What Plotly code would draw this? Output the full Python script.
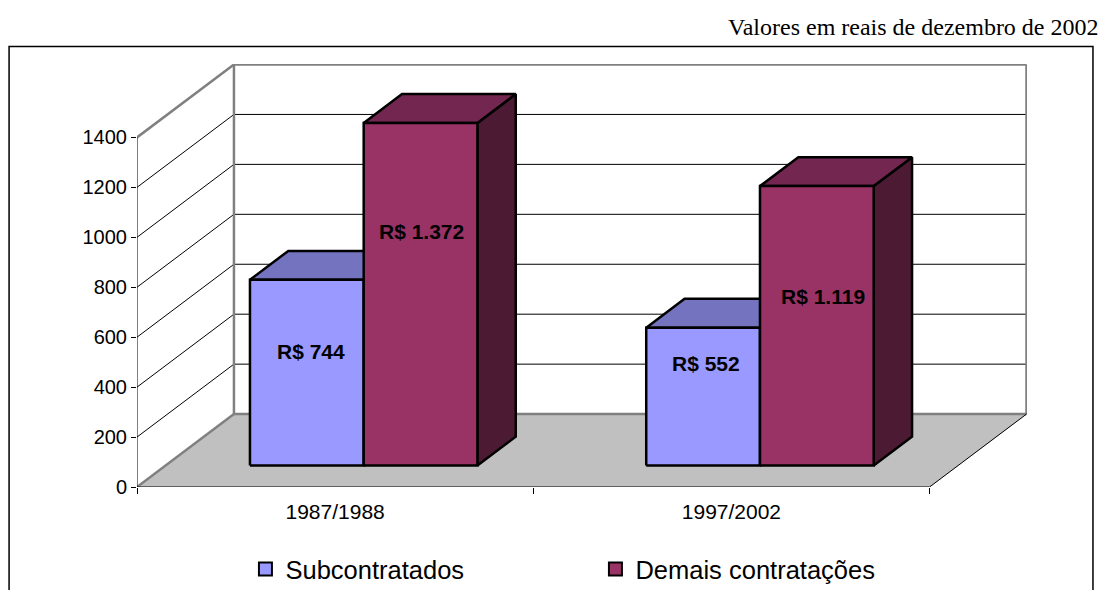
import plotly.graph_objects as go

# ---- data ----
categories = ["1987/1988", "1997/2002"]
series_names = ["Subcontratados", "Demais contratações"]
subcontratados = [744, 552]
demais = [1372, 1119]
value_labels = [["R$ 744", "R$ 552"], ["R$ 1.372", "R$ 1.119"]]
y_ticks = [0, 200, 400, 600, 800, 1000, 1200, 1400]
note = "Valores em reais de dezembro de 2002"

# ---- styles ----
FACE = ["#9999FF", "#993366"]
TOP = ["#7373BF", "#732650"]
SIDE = ["#4D4D80", "#4D1A33"]
FLOOR = "#C0C0C0"
WALL = "#808080"

# ---- pseudo-3D projection (plot units) ----
W, H = 1106, 590
L, R, T, B = 136.5, 1027, 64, 487.5
PX_PER_CAT = 396.5
PX_PER_VAL = 0.25
DEPTH_DX = 97 / PX_PER_CAT
DEPTH_DY = 73 / PX_PER_VAL
XMAX = (R - L) / PX_PER_CAT
YMAX = (B - T) / PX_PER_VAL
GAP, BAR_W = 0.213, 0.287
D0, D1 = 0.2945, 0.69


def pr(c, v, d):
    return c + d * DEPTH_DX, v + d * DEPTH_DY


def poly(points, fill, line="black", width=2.5):
    xy = [pr(*p) for p in points]
    xy.append(xy[0])
    return go.Scatter(x=[p[0] for p in xy], y=[p[1] for p in xy], mode="lines", fill="toself",
                      fillcolor=fill, line=dict(color=line, width=width),
                      showlegend=False, hoverinfo="skip")


def seg(a, b, color, width):
    pa, pb = pr(*a), pr(*b)
    return go.Scatter(x=[pa[0], pb[0]], y=[pa[1], pb[1]], mode="lines",
                      line=dict(color=color, width=width),
                      showlegend=False, hoverinfo="skip", cliponaxis=False)


fig = go.Figure()
ncat = len(categories)

# floor
fig.add_trace(poly([(0, 0, 0), (ncat, 0, 0), (ncat, 0, 1), (0, 0, 1)], FLOOR, FLOOR, 0.5))
# grid lines
for v in y_ticks[1:-1]:
    fig.add_trace(seg((0, v, 0), (0, v, 1), "#000000", 1))
    fig.add_trace(seg((0, v, 1), (ncat, v, 1), "#000000", 1))
# walls
top = y_ticks[-1]
for a, b in [((0, 0, 0), (0, 0, 1)), ((0, 0, 1), (ncat, 0, 1)), ((0, 0, 1), (0, top, 1)),
             ((0, top, 0), (0, top, 1)), ((0, top, 1), (ncat, top, 1)), ((ncat, 0, 1), (ncat, top, 1))]:
    fig.add_trace(seg(a, b, WALL, 2.5))
fig.add_trace(seg((0, 0, 0), (0, top, 0), "#000000", 1))
fig.add_trace(seg((0, 0, 0), (ncat, 0, 0), "#000000", 1))
fig.add_trace(seg((ncat, 0, 0), (ncat, 0, 1), "#000000", 1))

# bars
for ci in range(ncat):
    for si, vals in enumerate([subcontratados, demais]):
        x0 = ci + GAP + si * BAR_W
        x1 = x0 + BAR_W
        v = vals[ci]
        fig.add_trace(poly([(x1, 0, D0), (x1, 0, D1), (x1, v, D1), (x1, v, D0)], SIDE[si]))
        fig.add_trace(poly([(x0, v, D0), (x1, v, D0), (x1, v, D1), (x0, v, D1)], TOP[si]))
        fig.add_trace(poly([(x0, 0, D0), (x1, 0, D0), (x1, v, D0), (x0, v, D0)], FACE[si]))

# legend entries
for si, name in enumerate(series_names):
    fig.add_trace(go.Scatter(x=[None], y=[None], mode="markers", name=name,
                             marker=dict(symbol="square", size=13, color=FACE[si],
                                         line=dict(color="black", width=2))))

# value labels
label_x = [[0.439, 1.435], [0.719, 1.73]]
label_y = [[542, 494], [1022, 762]]
for si in range(2):
    for ci in range(ncat):
        fig.add_annotation(x=label_x[si][ci], y=label_y[si][ci], xref="x", yref="y",
                           text=value_labels[si][ci], showarrow=False,
                           font=dict(family="Liberation Sans", size=21, color="black", weight="bold"))


def px(x):
    return (x - L) / (R - L)


def py(y):
    return (B - y) / (B - T)


fig.add_annotation(x=px(1101), y=py(27), xref="paper", yref="paper", xanchor="right", yanchor="middle",
                   text=note, showarrow=False,
                   font=dict(family="Liberation Serif", size=24, color="black"))

# outer chart border, open at the page bottom
fig.add_shape(type="path", xref="paper", yref="paper",
              path=f"M {px(8.5)} {py(600)} L {px(8.5)} {py(46.5)} L {px(1093)} {py(46.5)} L {px(1093)} {py(600)}",
              line=dict(color="black", width=1.5))

fig.update_layout(
    width=W, height=H, margin=dict(l=L, r=W - R, t=T, b=H - B, autoexpand=False),
    paper_bgcolor="white", plot_bgcolor="white",
    font=dict(family="Liberation Sans", color="black"),
    legend=dict(orientation="h", x=px(251), y=py(570), xanchor="left", yanchor="middle",
                font=dict(size=25.5), itemwidth=30, indentation=-6, entrywidth=311, entrywidthmode="pixels",
                bgcolor="rgba(0,0,0,0)"),
    xaxis=dict(range=[0, XMAX], showgrid=False, zeroline=False, showline=False,
               tickmode="array", tickvals=[i + 0.5 for i in range(ncat)], ticktext=categories,
               ticks="", tickfont=dict(size=21), ticklabelstandoff=10,
               minor=dict(tickmode="array", tickvals=list(range(ncat + 1)), ticks="outside",
                          ticklen=6, tickcolor="black", tickwidth=1, showgrid=False)),
    yaxis=dict(range=[0, YMAX], showgrid=False, zeroline=False, showline=False,
               tickmode="array", tickvals=y_ticks, ticks="outside", ticklen=5,
               tickcolor="black", tickwidth=1, tickfont=dict(size=20), tickformat="d"),
)

fig.write_html("out.html", config={"displayModeBar": False},
               post_script="document.body.style.margin='0';document.documentElement.style.overflow='hidden';window.dispatchEvent(new Event('resize'));")
